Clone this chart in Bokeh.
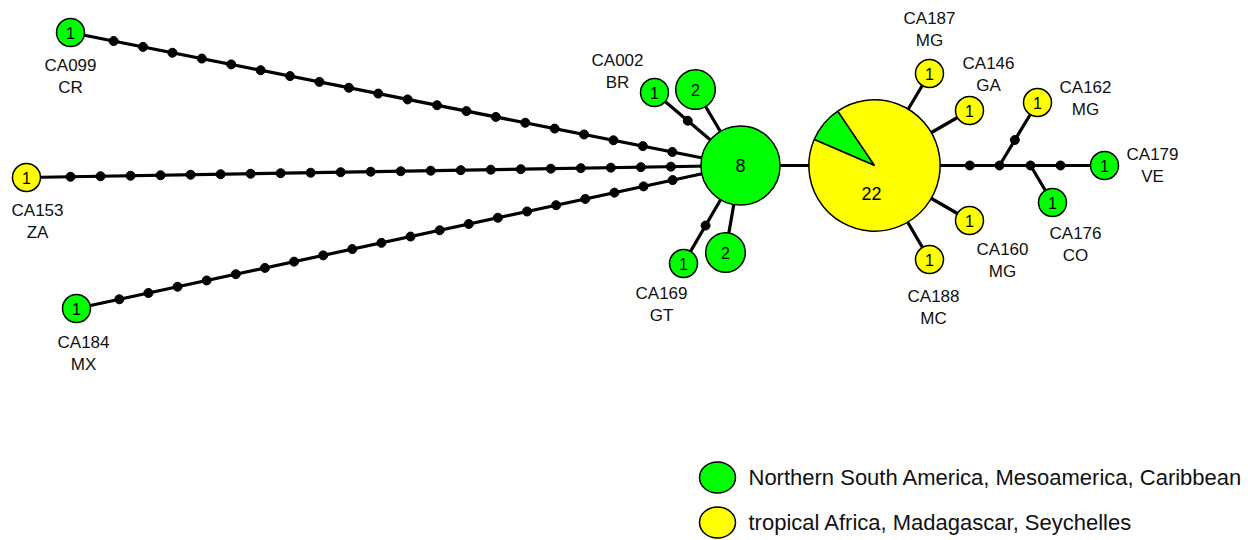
import math
from bokeh.plotting import figure
from bokeh.models import Range1d
from bokeh.core.properties import value
from bokeh.embed import file_html
from bokeh.resources import INLINE

W, H = 1248, 540

# ---- haplotype data -------------------------------------------------------
haplotypes = ["CA099", "CA153", "CA184", "CA002", "H2a", "H8", "H2b", "CA169",
              "H22", "CA187", "CA146", "CA160", "CA188", "CA162", "CA176", "CA179"]
countries = ["CR", "ZA", "MX", "BR", "", "", "", "GT",
             "", "MG", "GA", "MG", "MC", "MG", "CO", "VE"]
# number of sequences per haplotype from each region
n_america = [1, 0, 1, 1, 2, 8, 2, 1, 2, 0, 0, 0, 0, 0, 1, 1]
n_africa = [0, 1, 0, 0, 0, 0, 0, 0, 20, 1, 1, 1, 1, 1, 0, 0]

# unsampled / median vector nodes
median_vectors = ["mv1", "mv2"]

# network edges and number of unsampled intermediate states along each one
edge_from = ["CA099", "CA153", "CA184", "CA002", "H2a", "H2b", "CA169", "H8",
             "CA187", "CA146", "CA160", "CA188", "H22", "mv1", "mv2", "mv1", "mv2"]
edge_to = ["H8", "H8", "H8", "H8", "H8", "H8", "H8", "H22",
           "H22", "H22", "H22", "H22", "mv1", "mv2", "CA179", "CA162", "CA176"]
edge_steps = [20, 21, 20, 1, 0, 0, 1, 0,
              0, 0, 0, 0, 1, 0, 1, 1, 0]

regions = ["Northern South America, Mesoamerica, Caribbean",
           "tropical Africa, Madagascar, Seychelles"]

# ---- layout and styling ---------------------------------------------------
region_colors = ["#00FF00", "#FFFF00"]
UNIT_R = 14.0            # radius of a node holding one sequence
DOT_R = 4.5
FONT = value("Liberation Sans")

# node positions (x from the left, y from the top)
layout = {
    "CA099": (70, 32), "CA153": (26, 177), "CA184": (76, 308), "CA002": (654, 92),
    "H2a": (695, 89), "H8": (740, 165), "H2b": (725, 252), "CA169": (683, 263),
    "H22": (874, 165), "CA187": (929, 73), "CA146": (969, 110), "CA160": (969, 220),
    "CA188": (929, 259), "CA162": (1037, 102), "CA176": (1052, 202),
    "CA179": (1104, 165), "mv1": (999, 165), "mv2": (1030, 165),
}
label_pos = {
    "CA099": (70, 65), "CA153": (37, 210), "CA184": (83, 342), "CA002": (617, 60),
    "CA169": (661, 293), "CA187": (929, 18), "CA146": (988, 63), "CA160": (1002, 249),
    "CA188": (933, 296), "CA162": (1085, 87), "CA176": (1075, 233), "CA179": (1152, 154),
}
count_offset = {"H22": (-3, 28)}
pie_start_deg = {"H22": 124.0}


def X(px):
    return px


def Y(py):
    return H - py


def node_radius(name):
    if name in median_vectors:
        return 0.0
    i = haplotypes.index(name)
    return UNIT_R * math.sqrt(n_america[i] + n_africa[i])


p = figure(width=W, height=H, x_range=Range1d(0, W), y_range=Range1d(0, H),
           output_backend="svg", toolbar_location=None, min_border=0)
p.axis.visible = False
p.xgrid.visible = False
p.ygrid.visible = False
p.outline_line_color = None
p.background_fill_color = "white"
p.border_fill_color = "white"

# ---- edges and intermediate states ----------------------------------------
xs, ys, dx, dy = [], [], [], []
for a, b, k in zip(edge_from, edge_to, edge_steps):
    x1, y1 = layout[a]
    x2, y2 = layout[b]
    xs.append([X(x1), X(x2)])
    ys.append([Y(y1), Y(y2)])
    d = math.hypot(x2 - x1, y2 - y1)
    ux, uy = (x2 - x1) / d, (y2 - y1) / d
    ra, rb = node_radius(a), node_radius(b)
    usable = d - ra - rb
    for j in range(1, k + 1):
        t = ra + usable * j / (k + 1)
        dx.append(X(x1 + ux * t))
        dy.append(Y(y1 + uy * t))
for mv in median_vectors:
    dx.append(X(layout[mv][0]))
    dy.append(Y(layout[mv][1]))

p.multi_line(xs, ys, line_color="black", line_width=3.2)
p.circle(dx, dy, radius=DOT_R, fill_color="black", line_color="black")

# ---- haplotype nodes --------------------------------------------------------
cx, cy, cr, cc = [], [], [], []
wx, wy, wr, ws, we, wc = [], [], [], [], [], []
for i, name in enumerate(haplotypes):
    x, y = layout[name]
    r = node_radius(name)
    parts = [(n_america[i], region_colors[0]), (n_africa[i], region_colors[1])]
    parts = [pc for pc in parts if pc[0] > 0]
    if len(parts) == 1:
        cx.append(X(x)); cy.append(Y(y)); cr.append(r); cc.append(parts[0][1])
    else:
        total = sum(n for n, _ in parts)
        ang = math.radians(pie_start_deg.get(name, 90.0))
        for n, col in parts:
            span = 2 * math.pi * n / total
            wx.append(X(x)); wy.append(Y(y)); wr.append(r)
            ws.append(ang); we.append(ang + span); wc.append(col)
            ang += span

p.circle(x=cx, y=cy, radius=cr, fill_color=cc, line_color="black", line_width=1.5)
p.wedge(x=wx, y=wy, radius=wr, start_angle=ws, end_angle=we,
        fill_color=wc, line_color="black", line_width=1.5)

# counts inside the nodes
tx, ty, tt, tsz = [], [], [], []
for i, name in enumerate(haplotypes):
    x, y = layout[name]
    ox, oy = count_offset.get(name, (0, 0))
    total = n_america[i] + n_africa[i]
    tx.append(X(x + ox)); ty.append(Y(y + oy)); tt.append(str(total))
    tsz.append("16px" if total <= 2 else "18px")
p.text(x=tx, y=ty, text=tt, text_font=FONT, text_font_size=tsz,
       text_align="center", text_baseline="middle", text_color="black")

# haplotype names and country codes
lx, ly, lt = [], [], []
for i, name in enumerate(haplotypes):
    if name in label_pos:
        x, y = label_pos[name]
        lx += [X(x), X(x)]
        ly += [Y(y), Y(y + 22)]
        lt += [name, countries[i]]
p.text(x=lx, y=ly, text=lt, text_font=FONT, text_font_size="17px",
       text_align="center", text_baseline="middle", text_color="#111111")

# ---- legend -----------------------------------------------------------------
leg_y = [477, 522]
p.ellipse(x=[X(717)] * 2, y=[Y(v) for v in leg_y], width=36, height=31,
          fill_color=region_colors, line_color="black", line_width=1.5)
p.text(x=[X(748)] * 2, y=[Y(v) for v in leg_y], text=regions, text_font=FONT,
       text_font_size="22px", text_align="left", text_baseline="middle",
       text_color="#111111")

open("out.html", "w").write(file_html(p, INLINE))
